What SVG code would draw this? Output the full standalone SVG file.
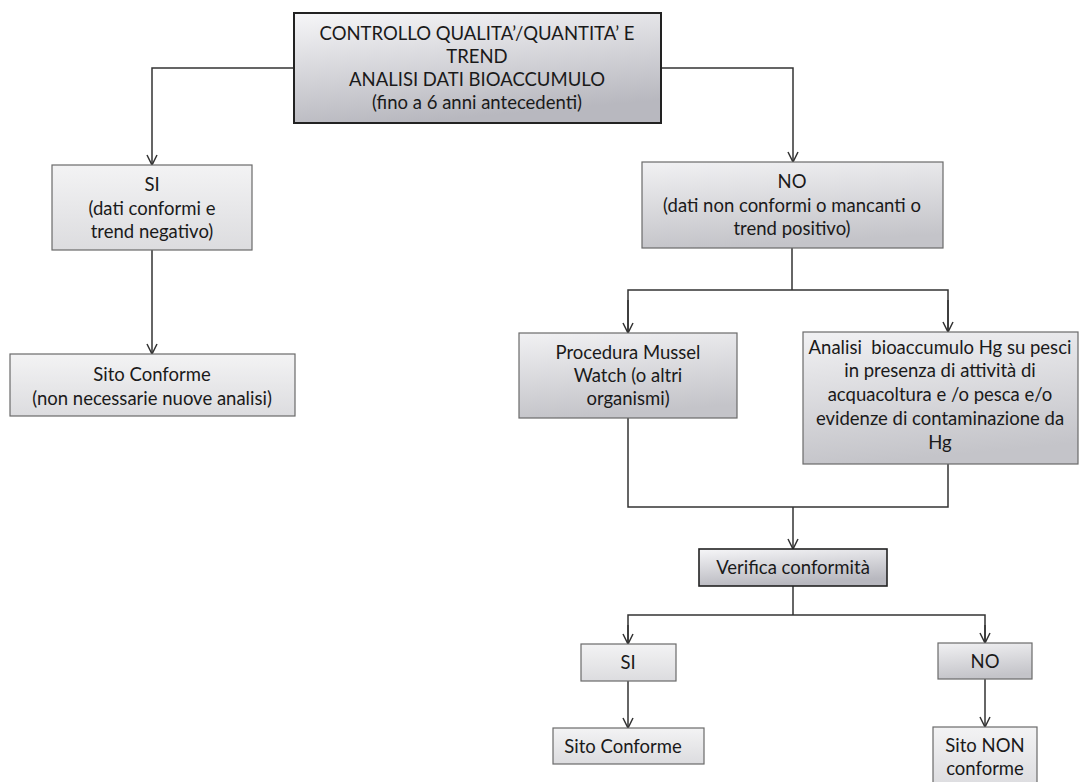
<svg xmlns="http://www.w3.org/2000/svg" width="1080" height="782" viewBox="0 0 1080 782">
<style>
  .t { font-family: Lato, "Open Sans", "Liberation Sans", sans-serif; font-size: 18.5px; fill: #1a1a1a; text-anchor: middle; }
  .box { stroke: #6a6a6a; stroke-width: 1.2; }
  .dark { stroke: #222; stroke-width: 2; }
  .c { fill: none; stroke: #333; stroke-width: 1.5; }
</style>
<defs>
  <linearGradient id="gStrong" x1="0" y1="0" x2="0.3" y2="1">
    <stop offset="0" stop-color="#f6f6f8"/>
    <stop offset="1" stop-color="#b8b8bf"/>
  </linearGradient>
  <linearGradient id="gMid" x1="0" y1="0" x2="0.2" y2="1">
    <stop offset="0" stop-color="#f1f1f3"/>
    <stop offset="1" stop-color="#c4c4c9"/>
  </linearGradient>
  <linearGradient id="gLight" x1="0" y1="0" x2="0" y2="1">
    <stop offset="0" stop-color="#f3f3f4"/>
    <stop offset="1" stop-color="#dcdcdf"/>
  </linearGradient>
  <marker id="arr" markerUnits="userSpaceOnUse" markerWidth="14" markerHeight="14" viewBox="-7 -12 14 14" refX="0" refY="0" orient="auto-start-reverse" overflow="visible">
    <path d="M-5,-10 L0,0 L5,-10" transform="rotate(-90)" fill="none" stroke="#333" stroke-width="1.5"/>
  </marker>
</defs>
<rect width="1080" height="782" fill="#ffffff"/>

<g id="connectors">
  <polyline class="c" points="294,68 152,68 152,165" marker-end="url(#arr)"/>
  <polyline class="c" points="661,68 793,68 793,162" marker-end="url(#arr)"/>
  <line class="c" x1="152" y1="250" x2="152" y2="354" marker-end="url(#arr)"/>
  <line class="c" x1="792" y1="248" x2="792" y2="290"/>
  <polyline class="c" points="628,333 628,290 948,290 948,332"/>
  <line class="c" x1="628" y1="300" x2="628" y2="333" marker-end="url(#arr)"/>
  <line class="c" x1="948" y1="300" x2="948" y2="332" marker-end="url(#arr)"/>
  <polyline class="c" points="628,418 628,507 948,507 948,464"/>
  <line class="c" x1="793" y1="507" x2="793" y2="549" marker-end="url(#arr)"/>
  <line class="c" x1="793" y1="586" x2="793" y2="615"/>
  <polyline class="c" points="628,644 628,615 985,615 985,643"/>
  <line class="c" x1="628" y1="625" x2="628" y2="644" marker-end="url(#arr)"/>
  <line class="c" x1="985" y1="625" x2="985" y2="643" marker-end="url(#arr)"/>
  <line class="c" x1="628" y1="681" x2="628" y2="728" marker-end="url(#arr)"/>
  <line class="c" x1="985" y1="679" x2="985" y2="727" marker-end="url(#arr)"/>
</g>

<g id="n-controllo">
  <rect class="dark" x="294" y="13" width="367" height="110" fill="url(#gStrong)"/>
  <text class="t" x="477" y="40">CONTROLLO QUALITA’/QUANTITA’ E</text>
  <text class="t" x="477" y="63">TREND</text>
  <text class="t" x="477" y="86">ANALISI DATI BIOACCUMULO</text>
  <text class="t" x="477" y="109">(fino a 6 anni antecedenti)</text>
</g>

<g id="n-si1">
  <rect class="box" x="52" y="165" width="200" height="85" fill="url(#gLight)"/>
  <text class="t" x="152" y="191">SI</text>
  <text class="t" x="152" y="215">(dati conformi e</text>
  <text class="t" x="152" y="238">trend negativo)</text>
</g>

<g id="n-sito-conforme1">
  <rect class="box" x="10" y="354" width="285" height="62" fill="url(#gLight)"/>
  <text class="t" x="152" y="381">Sito Conforme</text>
  <text class="t" x="152" y="405">(non necessarie nuove analisi)</text>
</g>

<g id="n-no1">
  <rect class="box" x="642" y="162" width="301" height="86" fill="url(#gMid)"/>
  <text class="t" x="792" y="188">NO</text>
  <text class="t" x="792" y="212">(dati non conformi o mancanti o</text>
  <text class="t" x="792" y="235">trend positivo)</text>
</g>

<g id="n-mussel">
  <rect class="box" x="519" y="333" width="218" height="85" fill="url(#gMid)"/>
  <text class="t" x="628" y="359">Procedura Mussel</text>
  <text class="t" x="628" y="382">Watch (o altri</text>
  <text class="t" x="628" y="405">organismi)</text>
</g>

<g id="n-analisi">
  <rect class="box" x="803" y="332" width="275" height="132" fill="url(#gMid)"/>
  <text class="t" x="940" y="354" xml:space="preserve">Analisi  bioaccumulo Hg su pesci</text>
  <text class="t" x="940" y="377">in presenza di attività di</text>
  <text class="t" x="940" y="401">acquacoltura e /o pesca e/o</text>
  <text class="t" x="940" y="425">evidenze di contaminazione da</text>
  <text class="t" x="940" y="449">Hg</text>
</g>

<g id="n-verifica">
  <rect class="dark" x="699" y="549" width="188" height="37" fill="url(#gStrong)" style="stroke-width:1.6"/>
  <text class="t" x="793" y="574">Verifica conformità</text>
</g>

<g id="n-si2">
  <rect class="box" x="581" y="644" width="95" height="37" fill="url(#gLight)"/>
  <text class="t" x="628" y="669">SI</text>
</g>

<g id="n-no2">
  <rect class="box" x="938" y="643" width="94" height="36" fill="url(#gMid)"/>
  <text class="t" x="985" y="668">NO</text>
</g>

<g id="n-sito-conforme2">
  <rect class="box" x="553" y="728" width="151" height="36" fill="url(#gLight)"/>
  <text class="t" x="623" y="753">Sito Conforme</text>
</g>

<g id="n-sito-non">
  <rect class="box" x="933" y="727" width="104" height="60" fill="url(#gLight)"/>
  <text class="t" x="985" y="752">Sito NON</text>
  <text class="t" x="985" y="775">conforme</text>
</g>
</svg>
